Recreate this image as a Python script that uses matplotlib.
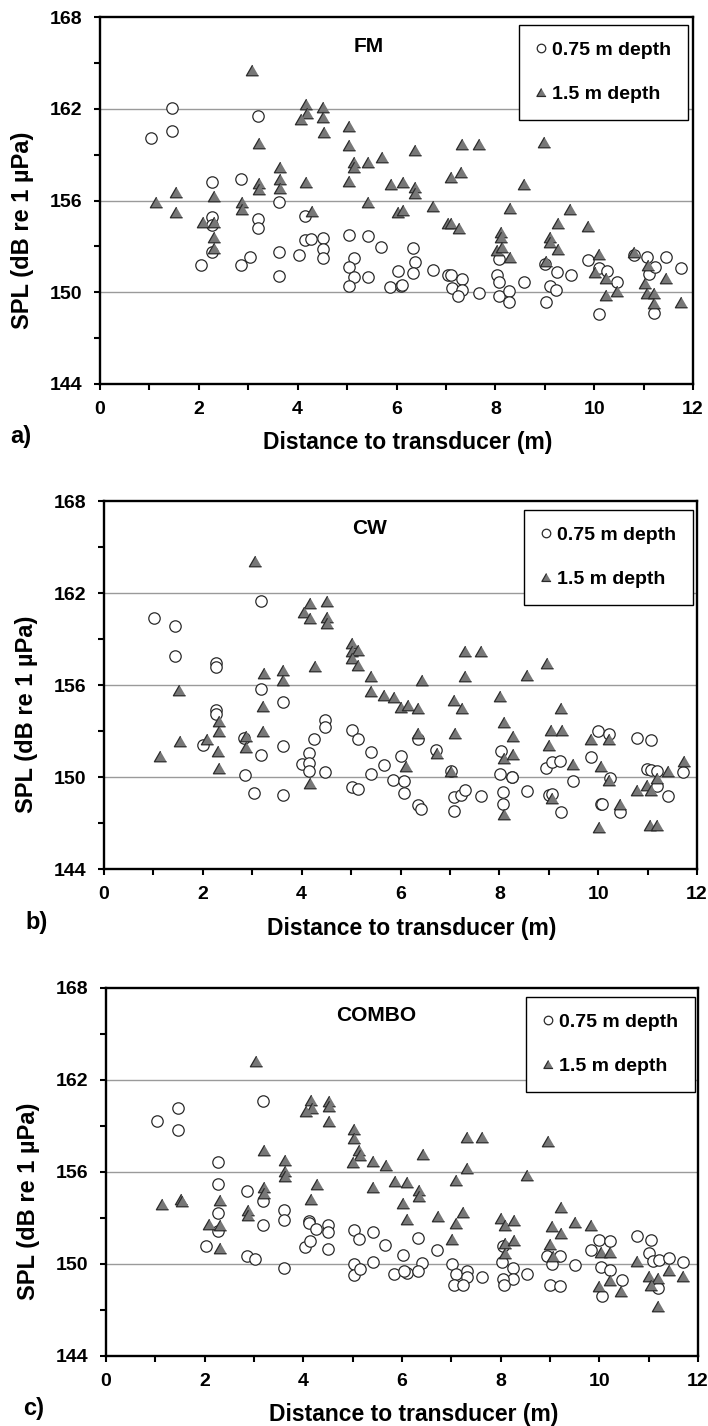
import matplotlib
matplotlib.use("Agg")
import matplotlib.pyplot as plt
from matplotlib.ticker import MultipleLocator

plt.rcParams['font.family'] = ['Liberation Sans', 'DejaVu Sans']
plt.rcParams['font.weight'] = 'bold'

# ---------------- data ----------------
fm_075_x = [1.03, 1.45, 1.45, 3.19, 2.27, 2.85, 3.62, 4.14, 3.19, 3.19, 2.27, 2.27, 2.27, 2.04, 2.85, 3.04,
            3.62, 3.62, 4.03, 4.14, 4.27, 4.51, 4.51, 4.51, 5.03, 5.42, 5.68, 5.15, 5.03, 5.15, 5.03, 5.42,
            5.86, 6.10, 6.12, 6.04, 6.34, 6.38, 6.34, 6.73, 7.05, 7.11, 7.32, 7.12, 7.32, 7.24, 7.66, 8.03,
            8.08, 8.08, 8.27, 8.27, 8.08, 8.57, 9.00, 9.10, 9.24, 9.23, 9.02, 9.53, 9.88, 10.09, 10.26, 10.46,
            10.09, 11.07, 11.10, 11.24, 11.45, 11.76, 11.21, 10.80]
fm_075_y = [160.07, 162.03, 160.57, 161.55, 157.24, 157.41, 155.89, 155.0, 154.77, 154.19, 154.9, 154.4,
            152.6, 151.8, 151.8, 152.3, 152.6, 151.07, 152.45, 153.43, 153.5, 153.53, 152.8, 152.23, 153.75,
            153.68, 152.95, 152.23, 151.64, 151.0, 150.4, 150.97, 150.33, 150.44, 150.5, 151.4, 152.88, 152.01,
            151.29, 151.46, 151.14, 151.1, 150.85, 150.31, 150.16, 149.77, 149.94, 151.1, 150.7, 149.77, 150.09,
            149.35, 152.2, 150.66, 151.83, 150.42, 151.35, 150.16, 149.35, 151.1, 152.12, 151.57, 151.4, 150.64,
            148.59, 152.29, 151.2, 151.62, 152.29, 151.57, 148.63, 152.45]
fm_15_x = [3.07, 4.17, 4.18, 4.06, 4.52, 4.52, 4.54, 3.22, 5.04, 5.04, 5.13, 5.15, 5.42, 5.70, 3.64, 3.64,
           3.64, 3.22, 3.22, 4.17, 5.04, 5.89, 6.14, 1.13, 1.53, 1.53, 2.31, 2.88, 2.88, 2.09, 2.31, 2.31,
           2.31, 4.30, 5.42, 6.03, 6.14, 6.38, 6.38, 6.38, 6.73, 7.32, 7.66, 7.11, 7.31, 7.04, 7.11, 7.27,
           8.29, 8.11, 8.11, 8.03, 8.13, 8.29, 8.57, 8.98, 9.51, 9.27, 9.10, 9.10, 9.27, 9.02, 9.88, 10.09,
           10.02, 10.24, 10.24, 10.46, 10.80, 11.08, 11.03, 11.07, 11.21, 11.21, 11.45, 11.76]
fm_15_y = [164.54, 162.3, 161.75, 161.33, 162.1, 161.44, 160.5, 159.74, 160.88, 159.63, 158.54, 158.22,
           158.54, 158.87, 158.17, 157.39, 156.8, 157.17, 156.76, 157.24, 157.3, 157.08, 157.24, 155.89,
           156.58, 155.28, 156.32, 155.89, 155.43, 154.6, 154.6, 153.64, 152.92, 155.34, 155.89, 155.28,
           155.4, 159.31, 156.91, 156.47, 155.65, 159.68, 159.68, 157.56, 157.89, 154.51, 154.5, 154.19,
           155.54, 153.97, 153.64, 152.77, 152.95, 152.29, 157.08, 159.8, 155.45, 154.51, 153.64, 153.27,
           152.81, 152.07, 154.3, 152.51, 151.35, 150.92, 149.83, 150.09, 152.62, 151.75, 150.59, 149.94,
           149.94, 149.29, 150.92, 149.39]

cw_075_x = [1.02, 1.43, 1.43, 2.27, 2.27, 3.18, 3.18, 3.62, 2.27, 2.27, 4.47, 4.47, 4.25, 5.01, 5.13, 2.01,
            2.84, 3.18, 3.62, 4.14, 4.00, 4.14, 4.14, 4.47, 2.86, 3.03, 3.62, 5.01, 5.13, 5.40, 5.67, 5.40,
            5.84, 6.02, 6.08, 6.08, 6.35, 6.35, 6.42, 6.72, 7.02, 7.09, 7.09, 7.22, 7.31, 7.63, 8.03, 8.01,
            8.25, 8.26, 8.08, 8.08, 8.55, 8.95, 9.06, 9.22, 9.00, 9.07, 9.24, 9.49, 9.85, 9.99, 10.22, 10.23,
            10.06, 10.07, 10.45, 10.78, 11.06, 10.98, 11.06, 11.20, 11.20, 11.42, 11.72]
cw_075_y = [160.37, 159.87, 157.87, 157.43, 157.17, 161.5, 155.74, 154.89, 154.39, 154.11, 153.74, 153.26,
            152.5, 153.09, 152.48, 152.11, 152.54, 151.41, 152.0, 151.57, 150.87, 150.91, 150.41, 150.3,
            150.15, 148.96, 148.85, 149.33, 149.24, 151.61, 150.8, 150.2, 149.78, 151.35, 149.72, 148.96,
            152.48, 148.2, 147.91, 151.78, 150.37, 148.67, 147.76, 148.85, 149.17, 148.78, 151.67, 150.22,
            150.0, 150.02, 149.0, 148.24, 149.07, 150.59, 150.96, 151.07, 148.85, 148.89, 147.72, 149.72,
            151.28, 153.02, 152.83, 149.93, 148.24, 148.27, 147.72, 152.54, 152.39, 150.54, 150.43, 150.37,
            149.39, 148.78, 150.33]
cw_15_x = [3.06, 4.16, 4.04, 4.16, 4.51, 4.51, 4.51, 5.01, 5.01, 5.13, 5.01, 5.13, 5.40, 5.40, 5.67, 5.86,
           6.02, 6.15, 4.27, 3.23, 3.63, 3.63, 1.52, 3.21, 2.32, 2.32, 3.21, 1.53, 2.08, 2.88, 2.88, 1.14,
           2.30, 2.32, 4.16, 6.11, 6.44, 6.36, 6.36, 6.74, 7.31, 7.63, 7.31, 7.09, 7.25, 7.11, 7.02, 8.01,
           8.10, 8.28, 8.10, 8.28, 8.10, 8.55, 8.97, 9.25, 9.04, 9.26, 9.01, 9.49, 9.07, 9.85, 10.21, 10.06,
           10.21, 10.01, 10.45, 10.78, 10.98, 11.06, 11.20, 11.42, 11.73, 11.05, 11.20]
cw_15_y = [164.07, 161.35, 160.76, 160.37, 161.5, 160.41, 160.04, 158.74, 158.24, 158.3, 157.76, 157.33,
           156.6, 155.59, 155.37, 155.22, 154.57, 154.72, 157.22, 156.78, 157.0, 156.35, 155.65, 154.61,
           153.63, 153.02, 153.02, 152.33, 152.48, 152.65, 151.96, 151.39, 151.72, 150.59, 149.61, 150.7,
           156.3, 154.5, 152.87, 151.57, 158.2, 158.2, 156.57, 155.0, 154.5, 152.87, 150.37, 155.26, 153.57,
           152.65, 151.24, 151.5, 147.59, 156.63, 157.43, 154.5, 153.09, 153.09, 152.11, 150.85, 148.63,
           152.48, 152.48, 150.7, 149.78, 146.72, 148.24, 149.17, 149.5, 149.17, 149.93, 150.37, 151.02,
           146.89, 146.89]

combo_075_x = [1.04, 1.45, 1.45, 3.19, 2.27, 2.27, 2.85, 3.19, 2.27, 2.27, 3.61, 3.61, 3.19, 4.12, 4.12,
               4.25, 4.50, 4.50, 2.03, 2.85, 3.03, 3.61, 4.03, 4.14, 4.50, 5.02, 5.12, 5.41, 5.66, 5.02, 5.02,
               5.14, 5.41, 5.84, 6.02, 6.10, 6.05, 6.33, 6.40, 6.33, 6.71, 7.01, 7.09, 7.31, 7.31, 7.06, 7.23,
               7.63, 8.02, 8.25, 8.25, 8.05, 8.07, 8.54, 8.04, 8.93, 9.04, 9.20, 9.01, 9.21, 9.50, 9.83, 10.00,
               10.21, 10.03, 10.21, 10.45, 10.05, 10.76, 11.04, 11.01, 11.08, 11.21, 11.41, 11.70, 11.18]
combo_075_y = [159.3, 160.17, 158.76, 160.61, 156.65, 155.22, 154.78, 154.13, 153.33, 152.13, 153.54, 152.89,
               152.57, 152.78, 152.67, 152.28, 152.57, 152.07, 151.15, 150.5, 150.33, 149.74, 151.09, 151.48,
               150.98, 152.24, 151.63, 152.07, 151.26, 150.0, 149.26, 149.67, 150.13, 149.37, 150.57, 149.41,
               149.55, 151.7, 150.07, 149.52, 150.93, 150.0, 149.35, 149.52, 149.13, 148.65, 148.65, 149.13,
               150.13, 149.74, 149.04, 149.04, 148.65, 149.35, 151.2, 150.54, 150.0, 150.5, 148.65, 148.54,
               149.96, 150.93, 151.54, 151.48, 149.78, 149.63, 148.98, 147.89, 151.8, 151.59, 150.72, 150.17,
               150.28, 150.39, 150.13, 148.43]
combo_15_x = [3.05, 4.15, 4.17, 4.05, 4.52, 4.52, 4.52, 5.02, 5.02, 5.12, 5.14, 5.01, 5.41, 5.68, 5.86,
              6.10, 5.41, 6.02, 6.10, 3.21, 3.63, 3.63, 3.63, 3.21, 3.21, 4.28, 4.15, 1.53, 1.55, 1.14, 2.31,
              2.87, 2.87, 2.08, 2.31, 2.31, 6.42, 6.35, 6.35, 6.73, 7.31, 7.63, 7.31, 7.09, 7.24, 7.09, 7.01,
              8.00, 8.08, 8.27, 8.08, 8.27, 8.08, 8.54, 8.96, 9.22, 9.04, 9.22, 9.00, 9.06, 9.50, 9.83, 10.03,
              10.21, 9.99, 10.21, 10.44, 10.76, 11.01, 11.18, 11.04, 11.41, 11.70, 11.19]
combo_15_y = [163.26, 160.67, 160.17, 160.0, 160.61, 160.33, 159.3, 158.83, 158.22, 157.41, 157.13, 156.63,
              156.74, 156.48, 155.39, 155.35, 155.02, 153.98, 152.96, 157.41, 156.76, 156.04, 155.72, 155.02,
              154.63, 155.24, 154.26, 154.26, 154.1, 153.93, 154.15, 153.54, 153.22, 152.61, 152.52, 151.04,
              157.2, 154.85, 154.41, 153.11, 158.26, 158.26, 156.26, 155.46, 153.39, 152.67, 151.65, 153.0,
              152.57, 152.85, 151.37, 151.54, 150.72, 155.83, 158.0, 153.7, 152.46, 152.02, 151.3, 150.54,
              152.74, 152.52, 150.76, 150.76, 148.54, 148.93, 148.22, 150.17, 149.2, 149.09, 148.61, 149.59,
              149.24, 147.24]

titles = ['FM', 'CW', 'COMBO']
panel_letters = ['a)', 'b)', 'c)']
series_labels = ['0.75 m depth', '1.5 m depth']
x_label = 'Distance to transducer (m)'
y_label = 'SPL (dB re 1 µPa)'
y_ticks = [144, 150, 156, 162, 168]
x_ticks = [0, 2, 4, 6, 8, 10, 12]

panels = [
    (fm_075_x, fm_075_y, fm_15_x, fm_15_y),
    (cw_075_x, cw_075_y, cw_15_x, cw_15_y),
    (combo_075_x, combo_075_y, combo_15_x, combo_15_y),
]

# ---------------- layout (pixels) ----------------
W, H = 708, 1426
fig = plt.figure(figsize=(W / 100, H / 100), dpi=100)
fig.patch.set_facecolor('white')

axes_px = [(100, 17, 693, 384), (104, 501, 697, 869), (106, 988, 698, 1356)]
title_pos = [(5.43, 166.1), (5.37, 166.2), (5.47, 166.2)]
letter_pos = [(10, 437), (25, 922), (23, 1409)]
legend_px = [(519, 25), (524, 510), (526, 997)]

tri = [(0, 0.866), (-1, -0.866), (1, -0.866)]

for i, (cx, cy, tx, ty) in enumerate(panels):
    l, t, r, b = axes_px[i]
    ax = fig.add_axes([l / W, (H - b) / H, (r - l) / W, (b - t) / H])
    ax.set_xlim(0, 12)
    ax.set_ylim(144, 168)
    for yv in [150, 156, 162]:
        ax.axhline(yv, color='#9a9a9a', lw=1.0, zorder=1)
    ax.plot(cx, cy, linestyle='none', marker='o', markersize=8.2,
            markerfacecolor='white', markeredgecolor='#2a2a2a', markeredgewidth=0.9,
            label=series_labels[0], zorder=3)
    ax.plot(tx, ty, linestyle='none', marker=tri, markersize=8.8,
            markerfacecolor='#777777', markeredgecolor='#2a2a2a', markeredgewidth=0.9,
            label=series_labels[1], zorder=4)
    ax.set_xticks(x_ticks)
    ax.set_yticks(y_ticks)
    ax.xaxis.set_minor_locator(MultipleLocator(1))
    ax.yaxis.set_minor_locator(MultipleLocator(3))
    ax.tick_params(which='both', direction='out', width=1.5, length=4, colors='black')
    ax.tick_params(axis='x', which='major', labelsize=14, pad=8)
    ax.tick_params(axis='y', which='major', labelsize=14, pad=9)
    for lab in ax.get_xticklabels() + ax.get_yticklabels():
        lab.set_fontweight('bold')
    for sp in ax.spines.values():
        sp.set_linewidth(1.7)
        sp.set_color('black')
    ax.set_xlabel(x_label, fontsize=16.5, fontweight='bold', va='center')
    ax.xaxis.set_label_coords(0.519, -59 / (b - t))
    ax.set_ylabel(y_label, fontsize=17, fontweight='bold', va='center', ha='center')
    ax.yaxis.set_label_coords(-77 / (r - l), 0.42)
    ax.text(title_pos[i][0], title_pos[i][1], titles[i], ha='center', va='center',
            fontsize=15, fontweight='bold', zorder=5)
    lx, ly = legend_px[i]
    leg = ax.legend(loc='upper left', bbox_to_anchor=((lx - l) / (r - l), (b - ly) / (b - t)),
                    borderaxespad=0, frameon=True, fancybox=False, framealpha=1,
                    edgecolor='black', prop={'size': 14, 'weight': 'bold'},
                    markerscale=0.75, handlelength=0.6, handletextpad=0.25,
                    borderpad=0.85, labelspacing=1.35)
    leg.get_frame().set_linewidth(1.0)
    leg.set_zorder(6)
    fig.text(letter_pos[i][0] / W, 1 - letter_pos[i][1] / H, panel_letters[i],
             ha='left', va='center', fontsize=17, fontweight='bold')

fig.savefig('out.png', dpi=100)
